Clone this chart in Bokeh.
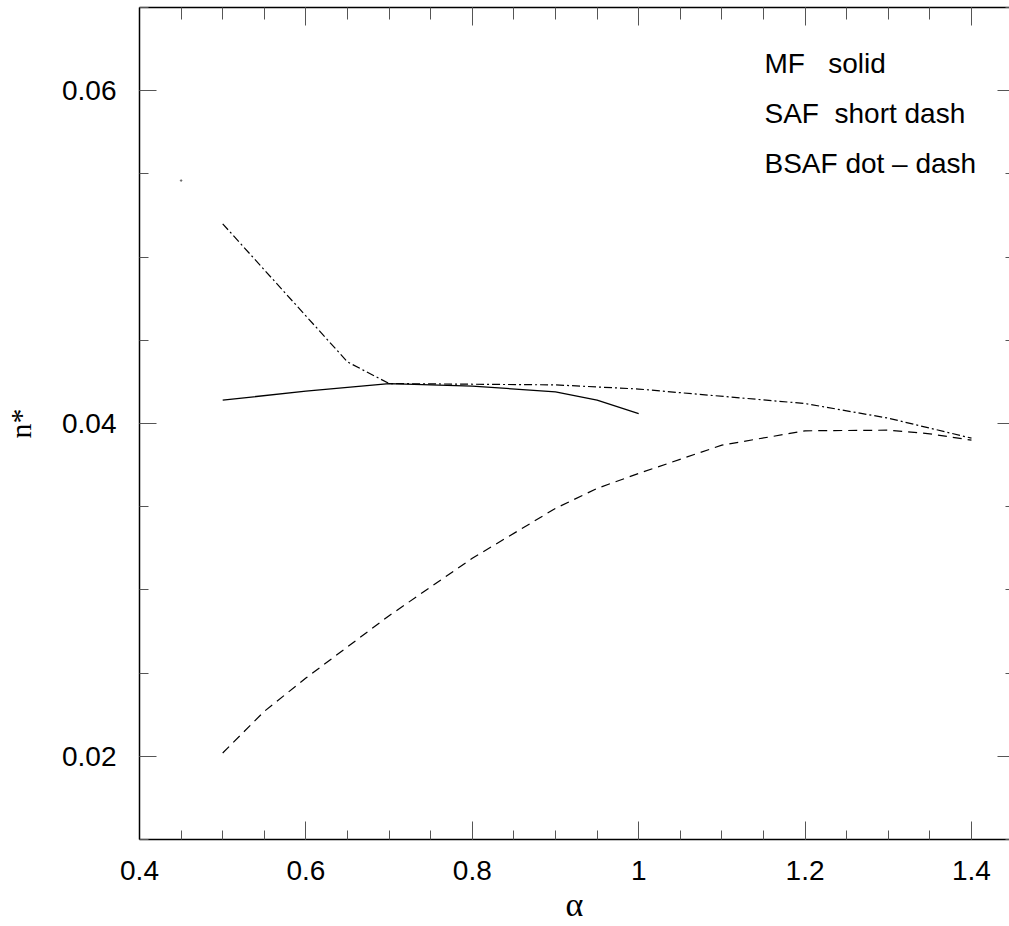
from bokeh.plotting import figure
from bokeh.models import Range1d, LinearAxis, FixedTicker, Label
from bokeh.embed import file_html
from bokeh.resources import INLINE

# ---- data ----
mf_alpha = [0.5, 0.6, 0.7, 0.8, 0.9, 0.95, 1.0]
mf_n = [0.0414, 0.04195, 0.0424, 0.04225, 0.0419, 0.0414, 0.0406]

saf_alpha = [0.5, 0.55, 0.6, 0.7, 0.8, 0.9, 0.95, 1.0, 1.1, 1.2, 1.3, 1.35, 1.4]
saf_n = [0.0202, 0.0227, 0.0247, 0.02845, 0.0319, 0.0349, 0.0361, 0.0370,
         0.0387, 0.03956, 0.0396, 0.03938, 0.0390]

bsaf_alpha = [0.5, 0.65, 0.7, 0.9, 1.0, 1.2, 1.3, 1.4]
bsaf_n = [0.0520, 0.0437, 0.0424, 0.04232, 0.04207, 0.0412, 0.04032, 0.03912]

stray_alpha = [0.45]
stray_n = [0.0546]

x_major = [0.4, 0.6, 0.8, 1.0, 1.2, 1.4]
x_major_labels = ["0.4", "0.6", "0.8", "1", "1.2", "1.4"]
x_minor = [0.4, 0.45, 0.5, 0.55, 0.6, 0.65, 0.7, 0.75, 0.8, 0.85, 0.9, 0.95,
           1.0, 1.05, 1.1, 1.15, 1.2, 1.25, 1.3, 1.35, 1.4, 1.45]
y_major = [0.02, 0.04, 0.06]
y_major_labels = ["0.02", "0.04", "0.06"]
y_minor = [0.015, 0.02, 0.025, 0.03, 0.035, 0.04, 0.045, 0.05, 0.055, 0.06, 0.065]

legend_texts = ["MF\u00a0\u00a0\u00a0solid", "SAF\u00a0\u00a0short dash", "BSAF dot \u2013 dash"]
legend_y = [0.061617, 0.058648, 0.055643]
legend_x = 1.1512

x_title = "\u03b1"
y_title = "n*"

SANS = "Liberation Sans"
SERIF = "Liberation Serif"
TICK_COLOR = "#555555"

X_START, X_END = 0.4, 1.4457
Y_START, Y_END = 0.015, 0.065

p = figure(width=1009, height=926,
           x_range=Range1d(X_START, X_END), y_range=Range1d(Y_START, Y_END),
           output_backend="svg", toolbar_location=None,
           min_border_left=139, min_border_right=0,
           min_border_top=7, min_border_bottom=87)
p.xgrid.visible = False
p.ygrid.visible = False
p.outline_line_color = None
p.background_fill_color = "white"
p.border_fill_color = "white"

# bottom axis
xa = p.xaxis[0]
xa.ticker = FixedTicker(ticks=x_major, minor_ticks=x_minor)
xa.major_label_overrides = {t: l for t, l in zip(x_major, x_major_labels)}
xa.major_tick_in = 18
xa.major_tick_out = 0
xa.minor_tick_in = 9
xa.minor_tick_out = 0
xa.major_tick_line_color = TICK_COLOR
xa.minor_tick_line_color = TICK_COLOR
xa.axis_line_color = "black"
xa.axis_line_width = 1.5
xa.major_label_text_font = SANS
xa.major_label_text_font_size = "28px"
xa.major_label_text_color = "black"
xa.major_label_standoff = 21
xa.axis_label = x_title
xa.axis_label_text_font = SERIF
xa.axis_label_text_font_size = "34px"
xa.axis_label_text_font_style = "normal"
xa.axis_label_text_color = "black"
xa.axis_label_standoff = 3

# left axis
ya = p.yaxis[0]
ya.ticker = FixedTicker(ticks=y_major, minor_ticks=y_minor)
ya.major_label_overrides = {t: l for t, l in zip(y_major, y_major_labels)}
ya.major_tick_in = 17
ya.major_tick_out = 0
ya.minor_tick_in = 9
ya.minor_tick_out = 0
ya.major_tick_line_color = TICK_COLOR
ya.minor_tick_line_color = TICK_COLOR
ya.axis_line_color = "black"
ya.axis_line_width = 1.5
ya.major_label_text_font = SANS
ya.major_label_text_font_size = "28px"
ya.major_label_text_color = "black"
ya.major_label_standoff = 23
ya.major_label_orientation = "horizontal"
ya.axis_label = y_title
ya.axis_label_text_font = SERIF
ya.axis_label_text_font_size = "30px"
ya.axis_label_text_font_style = "normal"
ya.axis_label_text_color = "black"
ya.axis_label_standoff = 22


def tick_axis(minor, length, line=True):
    return LinearAxis(ticker=FixedTicker(ticks=[], minor_ticks=minor),
                      major_tick_in=0, major_tick_out=0,
                      minor_tick_in=length, minor_tick_out=0,
                      minor_tick_line_color=TICK_COLOR,
                      axis_line_color="black" if line else None,
                      axis_line_width=1.5)


# top frame: long ticks at labelled positions, short ticks elsewhere
p.add_layout(tick_axis(x_minor, 12, True), "above")
p.add_layout(tick_axis(x_major, 18, False), "above")
# right frame (its line falls just outside the window)
p.add_layout(tick_axis(y_minor, 4, False), "right")
p.add_layout(tick_axis(y_major, 12, False), "right")

# curves
p.line(mf_alpha, mf_n, line_color="black", line_width=1.3)
p.line(saf_alpha, saf_n, line_color="black", line_width=1.2, line_dash="9 6")
p.line(bsaf_alpha, bsaf_n, line_color="black", line_width=1.2, line_dash="8 3 2 3")
p.scatter(stray_alpha, stray_n, size=1.5, color="#666666")

# legend text
for t, yv in zip(legend_texts, legend_y):
    p.add_layout(Label(x=legend_x, y=yv, text=t, text_font=SANS, text_font_size="28px",
                       text_color="black", text_align="left", text_baseline="alphabetic"))

open("out.html", "w").write(file_html(p, INLINE))
